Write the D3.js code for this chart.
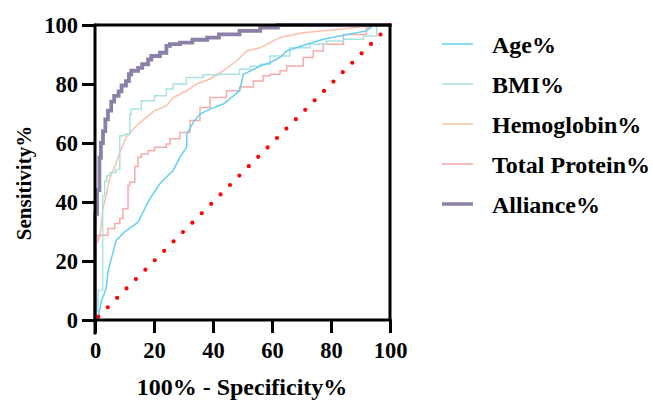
<!DOCTYPE html>
<html><head><meta charset="utf-8">
<script src="https://cdn.jsdelivr.net/npm/d3@7"></script>
<style>body{margin:0;background:#fff}svg{display:block}</style>
</head><body><svg id="c" width="653" height="401"></svg>
<script>
const seriesNames = ["Age%","BMI%","Hemoglobin%","Total Protein%","Alliance%"];
const seriesColors = ["#62d0f2","#a8e2e2","#fbc0a9","#f7aaaa","#8c80a9"];
const xTicks = [0,20,40,60,80,100];
const yTicks = [0,20,40,60,80,100];
const age = [[0,0],[1,0.6],[2.1,6.2],[3.8,10.7],[4.4,16.3],[6.1,23],[7.2,27],[10,29.8],[14.6,33.2],[18.5,41],[22,46.2],[24.7,49],[26.5,50.7],[28.8,55.2],[31.1,58.6],[31.1,63],[33.3,67],[35.6,69.8],[39,71.5],[43.5,73.2],[49,77.7],[50.3,83.3],[56,86.1],[59.3,87.2],[62.7,89],[65,91.2],[71.8,93.5],[77.4,95.2],[83,96.3],[92,98],[94.3,99.7],[100,100]];
const bmi = [[0,0],[1,3],[1.5,10],[2.6,10],[2.6,37],[3.3,42],[4,47],[5,49],[7,50],[8.4,51],[8.4,60],[10,62.5],[11.8,63],[12.3,69.8],[15.7,71.5],[20.2,74.3],[24.2,76],[26.5,78.3],[31,80],[36.7,82.2],[42.4,83.1],[49,83.3],[52.5,85],[56,86],[59.3,86.7],[66,89.5],[72.9,92.3],[78.5,93.5],[84.2,94.6],[91,95.2],[95.5,96.3],[95.5,99],[100,100]];
const hemo = [[0,0],[0.3,21],[0.5,26.5],[1.6,27.7],[2.7,37.8],[3.8,42.2],[5,48],[6.7,52],[8.5,57],[10.6,62],[14.6,66.4],[17.4,68.7],[20.2,71],[24.2,72.6],[26.5,75.4],[31.1,77.7],[34.5,80],[39,81.7],[43.5,84.5],[48,87.8],[51.4,91.2],[56,92.3],[59.3,94],[62.7,95.7],[65,96.3],[70.6,97.4],[82,98.5],[93,99.7],[100,100]];
const tp = [[0,0],[0,12],[0.4,12],[0.4,18.6],[1,26.5],[4.4,28.7],[6.7,31],[8.4,32.7],[9.5,34.4],[11.2,37.7],[11.8,45.6],[13.5,46.7],[14.6,52],[15.7,55.2],[18,56.3],[20.2,57.4],[24.2,58.6],[25.4,59.7],[28.8,61.4],[32.2,63.6],[35.6,67.6],[39,72],[44.6,75.4],[49,77.7],[53.7,79],[57,81],[59.3,82.8],[62.7,83.3],[65,84.5],[70.6,86.1],[74,89],[77.4,91.2],[84.2,93.5],[92,96.8],[93.2,99],[100,100]];
const alliance = [[0,0],[0.3,36],[0.7,36],[0.7,44],[1.5,44],[1.5,52],[2,55],[2.7,60],[3.5,64],[4.4,68],[5.5,71],[6.5,74],[8,76],[9,77.5],[10.5,79.5],[11.5,81],[12.3,83.3],[14.6,84.5],[16,85.5],[18,86.7],[19.1,88.3],[22,89.5],[24.2,90.6],[25.4,92.9],[28.8,93.5],[33,94],[38,95],[42,95.7],[49,96.8],[56,98],[62,99.1],[70,100],[100,100]];
const seriesData = [age,bmi,hemo,tp,alliance];

const svg = d3.select("#c");
const x = d3.scaleLinear().domain([0,100]).range([95,390]);
const y = d3.scaleLinear().domain([0,100]).range([320,25]);
const font = "'Liberation Serif','Times New Roman',serif";

const curves = [d3.curveLinear, d3.curveStepBefore, d3.curveLinear, d3.curveStepBefore, d3.curveStepBefore];
const order = [2,3,1,0,4];
order.forEach(i=>{
  const line = d3.line().x(d=>x(d[0])).y(d=>y(d[1])).curve(curves[i]);
  svg.append("path").attr("d",line(seriesData[i])).attr("fill","none")
    .attr("stroke",seriesColors[i]).attr("stroke-width",i===4?3.8:1.5)
    .attr("stroke-linejoin","miter");
});

// diagonal reference
svg.append("line").attr("x1",x(0)).attr("y1",y(0)).attr("x2",x(100)).attr("y2",y(100))
  .attr("stroke","#ff0000").attr("stroke-width",4.2).attr("stroke-linecap","round")
  .attr("stroke-dasharray","0,13.3").attr("stroke-dashoffset",-4.7);

// frame top & right
svg.append("line").attr("x1",x(0)).attr("x2",x(100)+1.5).attr("y1",y(100)).attr("y2",y(100)).attr("stroke","#000").attr("stroke-width",3);
svg.append("line").attr("x1",x(100)).attr("x2",x(100)).attr("y1",y(100)).attr("y2",y(0)).attr("stroke","#000").attr("stroke-width",3);

const xa = svg.append("g").attr("transform",`translate(0,${y(0)})`)
  .call(d3.axisBottom(x).tickValues(xTicks).tickSize(13).tickPadding(9).tickSizeOuter(0));
const ya = svg.append("g").attr("transform",`translate(${x(0)},0)`)
  .call(d3.axisLeft(y).tickValues(yTicks).tickSize(13).tickPadding(4).tickSizeOuter(0));
[xa,ya].forEach(g=>{
  g.select(".domain").attr("stroke","#000").attr("stroke-width",3);
  g.selectAll(".tick line").attr("stroke","#000").attr("stroke-width",3);
  g.selectAll(".tick text").attr("fill","#000").style("font-family",font).style("font-weight","bold").style("font-size","22.5px");
});
xa.select(".domain").attr("d",`M${x(0)-1.5},0H${x(100)+1.5}`);
ya.select(".domain").attr("d",`M0,${y(0)+14.5}V${y(100)-1.5}`);

svg.append("text").attr("x",242).attr("y",395).attr("text-anchor","middle")
  .style("font-family",font).style("font-weight","bold").style("font-size","24px").text("100% - Specificity%");
svg.append("text").attr("transform","translate(31,183) rotate(-90)").attr("text-anchor","middle")
  .style("font-family",font).style("font-weight","bold").style("font-size","21px").text("Sensitivity%");

// legend
const lg = svg.append("g");
seriesNames.forEach((n,i)=>{
  const ly = 44 + i*40;
  lg.append("line").attr("x1",442).attr("x2",473).attr("y1",ly).attr("y2",ly)
    .attr("stroke",seriesColors[i]).attr("stroke-width",i===4?3.5:1.5);
  lg.append("text").attr("x",492).attr("y",ly+9).style("font-family",font)
    .style("font-weight","bold").style("font-size","24px").text(n);
});
</script></body></html>
